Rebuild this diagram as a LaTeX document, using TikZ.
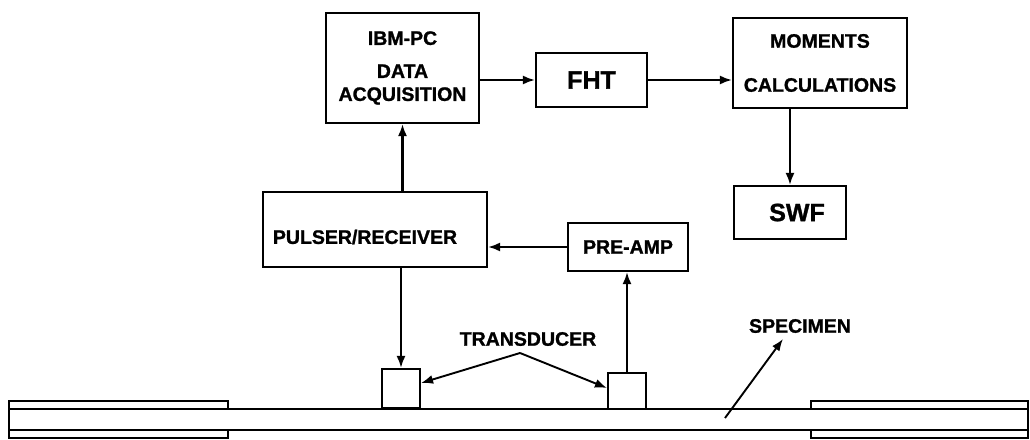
\documentclass[tikz,border=0pt]{standalone}
\usepackage{fontspec}
\setmainfont{Liberation Sans}[BoldFeatures={FakeBold=1.2}]
\usetikzlibrary{arrows.meta,calc}
\begin{document}
\begin{tikzpicture}[x=1pt,y=-1pt,
  line width=2.1pt,
  box/.style={draw,rectangle,line width=2.1pt,inner sep=0pt,align=center,
    font=\fontsize{19.5}{23}\selectfont\bfseries},
  bigbox/.style={box,font=\fontsize{25}{30}\selectfont\bfseries},
  lbl/.style={inner sep=0pt,font=\fontsize{19.5}{23}\selectfont\bfseries},
  arr/.style={line width=2.1pt,-{Latex[length=12pt,width=9pt]}},
  slim/.style={line width=1.9pt,-{Latex[length=12pt,width=9pt]}}]
\useasboundingbox (0,0) rectangle (1030,439);
% boxes
\node[box,minimum width=153pt,minimum height=110pt] (ibm) at (402.5,68)
  {IBM-PC\\[10pt]DATA\\[0pt]ACQUISITION};
\node[bigbox,minimum width=111pt,minimum height=54pt] (fht) at (591.5,80) {FHT};
\node[box,minimum width=174pt,minimum height=90pt] (mom) at (820,63)
  {MOMENTS\\[21pt]CALCULATIONS};
\node[bigbox,minimum width=112pt,minimum height=53pt] (swf) at (790,212.5) {\hspace*{14pt}SWF};
\node[box,minimum width=224pt,minimum height=75pt] (pr) at (375,229.5) {};
\node[lbl] (prt) at (365,237) {PULSER/RECEIVER};
\node[box,minimum width=120pt,minimum height=48pt] (pa) at (628,247) {PRE-AMP};
\node[draw,rectangle,line width=2.1pt,inner sep=0pt,minimum width=38pt,minimum height=40pt] (tl) at (401,389) {};
\node[draw,rectangle,line width=2.1pt,inner sep=0pt,minimum width=38pt,minimum height=36pt] (tr) at (627,391) {};
% labels
\node[lbl] (tlab) at (528,339) {TRANSDUCER};
\node[lbl] (slab) at (800,326) {SPECIMEN};
\coordinate (apex) at (520,353);
\coordinate (sptail) at (725,418);
% connectors
\draw[arr] (ibm.south |- pr.north) -- (ibm.south);
\draw[arr] (ibm.east |- fht.west) -- (fht.west);
\draw[arr] (fht.east) -- (fht.east -| mom.west);
\draw[arr] (mom.south -| swf.north) -- (swf.north);
\draw[arr] (pa.west) -- (pa.west -| pr.east);
\draw[arr] (tl.north |- pr.south) -- (tl.north);
\draw[arr] (tr.north) -- (tr.north |- pa.south);
\draw[slim] (apex) -- ([yshift=6pt]tl.east);
\draw[slim] (apex) -- ([yshift=3pt]tr.west);
\draw[slim] (sptail) -- ([xshift=-17pt,yshift=-5pt]slab.south);
% specimen and grips
\draw (9,409) -- (1028,409);
\draw (9,430) -- (1028,430);
\draw (9,401) rectangle (228,409);
\draw (9,430) rectangle (228,438);
\draw (811,401) rectangle (1028,409);
\draw (811,430) rectangle (1028,438);
\draw (9,401) -- (9,438);
\draw (1028,401) -- (1028,438);
\draw[line width=3pt] (383,408) -- (419,408);
\end{tikzpicture}
\end{document}
